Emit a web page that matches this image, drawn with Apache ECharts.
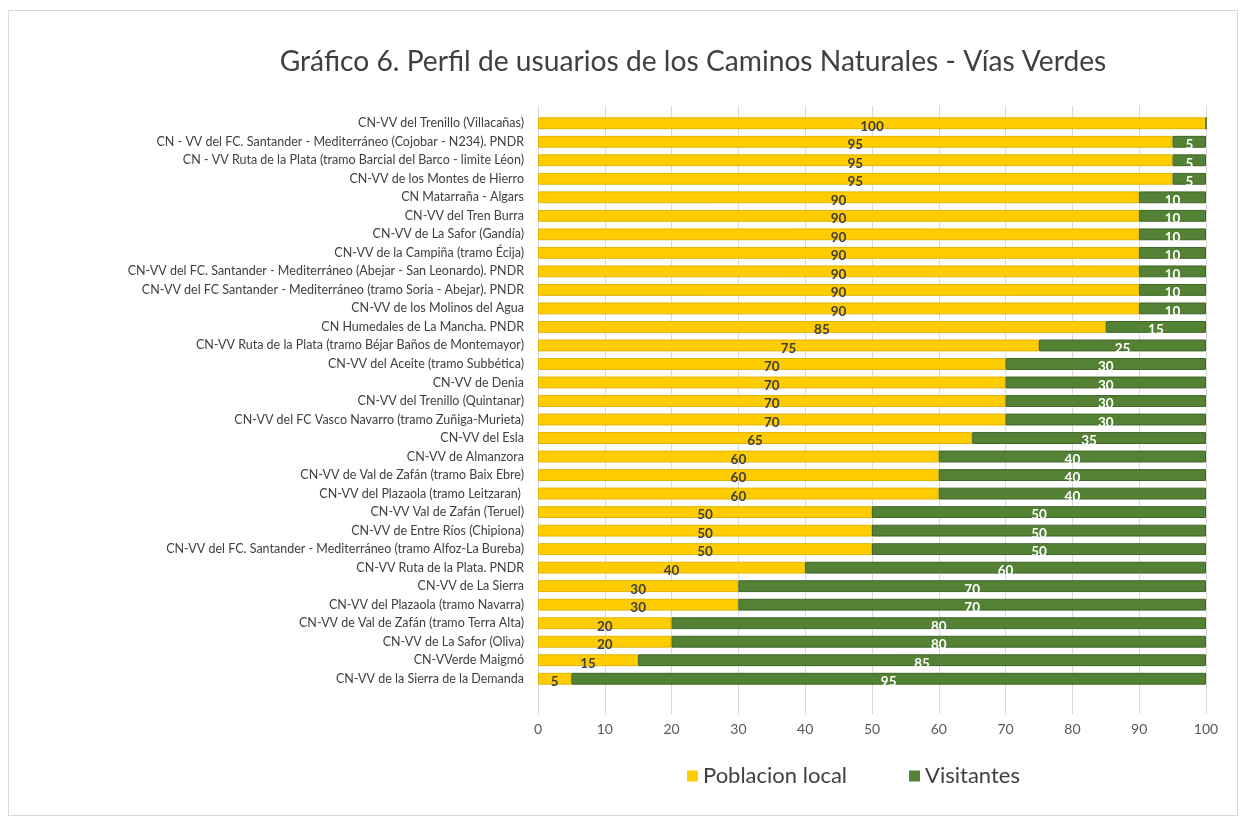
<!DOCTYPE html>
<html>
<head>
<meta charset="utf-8">
<script src="https://cdn.jsdelivr.net/npm/echarts@6/dist/echarts.min.js"></script>
<style>
  html, body { margin: 0; padding: 0; background: #fff; }
  #main { position: absolute; left: 8px; top: 10px; width: 1230px; height: 806px; border: 1px solid #d9d9d9; box-sizing: border-box; }
</style>
</head>
<body>
<div id="main"></div>
<script>
// categorias (de arriba abajo)
var caminos = [
    'CN-VV del Trenillo (Villacañas)',
    'CN - VV del FC. Santander - Mediterráneo (Cojobar - N234). PNDR',
    'CN - VV Ruta de la Plata (tramo Barcial del Barco - limite Léon)',
    'CN-VV de los Montes de Hierro',
    'CN Matarraña - Algars',
    'CN-VV del Tren Burra',
    'CN-VV de La Safor (Gandía)',
    'CN-VV de la Campiña (tramo Écija)',
    'CN-VV del FC. Santander - Mediterráneo (Abejar - San Leonardo). PNDR',
    'CN-VV del FC Santander - Mediterráneo (tramo Soria - Abejar). PNDR',
    'CN-VV de los Molinos del Agua',
    'CN Humedales de La Mancha. PNDR',
    'CN-VV Ruta de la Plata (tramo Béjar Baños de Montemayor)',
    'CN-VV del Aceite (tramo Subbética)',
    'CN-VV de Denia',
    'CN-VV del Trenillo (Quintanar)',
    'CN-VV del FC Vasco Navarro (tramo Zuñiga-Murieta)',
    'CN-VV del Esla',
    'CN-VV de Almanzora',
    'CN-VV de Val de Zafán (tramo Baix Ebre)',
    'CN-VV del Plazaola (tramo Leitzaran) ',
    'CN-VV Val de Zafán (Teruel)',
    'CN-VV de Entre Ríos (Chipiona)',
    'CN-VV del FC. Santander - Mediterráneo (tramo Alfoz-La Bureba)',
    'CN-VV Ruta de la Plata. PNDR',
    'CN-VV de La Sierra',
    'CN-VV del Plazaola (tramo Navarra)',
    'CN-VV de Val de Zafán (tramo Terra Alta)',
    'CN-VV de La Safor (Oliva)',
    'CN-VVerde Maigmó',
    'CN-VV de la Sierra de la Demanda'
];
var poblacionLocal = [100, 95, 95, 95, 90, 90, 90, 90, 90, 90, 90, 85, 75, 70, 70, 70, 70, 65, 60, 60, 60, 50, 50, 50, 40, 30, 30, 20, 20, 15, 5];
var visitantes = [0, 5, 5, 5, 10, 10, 10, 10, 10, 10, 10, 15, 25, 30, 30, 30, 30, 35, 40, 40, 40, 50, 50, 50, 60, 70, 70, 80, 80, 85, 95];
var ticks = [0, 10, 20, 30, 40, 50, 60, 70, 80, 90, 100];

var myChart = echarts.init(document.getElementById('main'));
var option = {
    title: {
        text: 'Gráfico 6. Perfil de usuarios de los Caminos Naturales - Vías Verdes',
        left: 679,
        top: 32,
        textAlign: 'center',
        textStyle: { fontFamily: 'Lato', fontSize: 28.2, fontWeight: 'normal', color: '#404040' }
    },
    legend: {
        top: 749,
        left: 673,
        itemWidth: 11,
        itemHeight: 11,
        itemGap: 62,
        icon: 'rect',
        itemStyle: { borderWidth: 0 },
        textStyle: { fontFamily: 'Lato', fontSize: 22, color: '#404040' },
        data: ['Poblacion local', 'Visitantes']
    },
    grid: [
        // zona de barras
        { left: 529, right: 31, top: 103, bottom: 127 },
        // solo lineas de division, mas largas
        { left: 529, right: 31, top: 95, bottom: 101 }
    ],
    xAxis: [
        {
            type: 'value',
            gridIndex: 0,
            min: 0,
            max: 100,
            interval: 10,
            axisLine: { show: false },
            axisTick: { show: false },
            splitLine: { show: false },
            axisLabel: {
                margin: 34,
                color: '#595959',
                fontFamily: 'Lato',
                fontSize: 14,
                formatter: function (v) { return ticks.indexOf(v) >= 0 ? String(v) : ''; }
            }
        },
        {
            type: 'value',
            gridIndex: 1,
            min: 0,
            max: 100,
            interval: 10,
            axisLine: { show: false },
            axisTick: { show: false },
            axisLabel: { show: false },
            splitLine: { lineStyle: { color: '#d9d9d9' } }
        }
    ],
    yAxis: [
        {
            type: 'category',
            gridIndex: 0,
            inverse: true,
            data: caminos,
            axisLine: { show: false },
            axisTick: { show: false },
            axisLabel: {
                margin: 14,
                color: '#404040',
                fontFamily: 'Lato',
                fontSize: 12.5
            }
        },
        { type: 'value', gridIndex: 1, show: false, min: 0, max: 1 }
    ],
    series: [
        {
            name: 'Poblacion local',
            type: 'bar',
            stack: 'total',
            barWidth: '64%',
            z: 3,
            itemStyle: { color: '#ffcc00', borderColor: '#e0b400', borderWidth: 1 },
            label: {
                show: true,
                position: 'inside',
                offset: [0, 3],
                color: '#404040',
                fontWeight: 'bold',
                fontFamily: 'Lato',
                fontSize: 13.5
            },
            data: poblacionLocal
        },
        {
            name: 'Visitantes',
            type: 'bar',
            stack: 'total',
            barWidth: '64%',
            z: 3,
            itemStyle: { color: '#548235', borderColor: '#3f6428', borderWidth: 1 },
            label: {
                show: true,
                position: 'inside',
                offset: [0, 3],
                color: '#ffffff',
                fontWeight: 'bold',
                fontFamily: 'Lato',
                fontSize: 13.5,
                formatter: function (p) { return p.value ? p.value : ''; }
            },
            data: visitantes
        }
    ]
};
myChart.setOption(option);
</script>
</body>
</html>
